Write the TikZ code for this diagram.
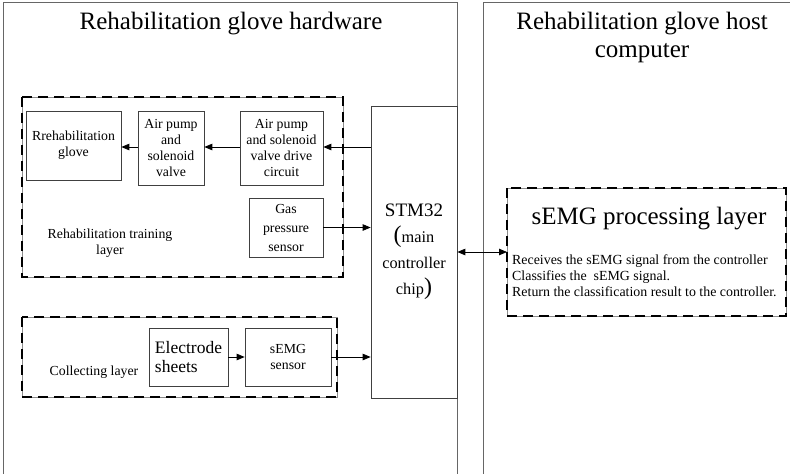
\documentclass[tikz,border=0pt]{standalone}
\usepackage{fontspec}
\setmainfont{Liberation Serif}
\usetikzlibrary{arrows.meta}
\begin{document}
\begin{tikzpicture}[x=1pt,y=-1pt,
  panel/.style={draw=black!60,line width=0.9pt},
  blk/.style={draw=black!75,line width=0.7pt,align=center,inner sep=1pt,font=\fontsize{13.8}{16}\selectfont},
  dashbox/.style={draw=black,line width=2.4pt,dash pattern=on 10pt off 6pt},
  thinline/.style={draw=black!45,line width=0.5pt},
  arr/.style={-{Triangle[length=8pt,width=6.5pt]},line width=0.8pt},
  darr/.style={{Triangle[length=8pt,width=6.5pt]}-{Triangle[length=8pt,width=6.5pt]},line width=0.8pt},
  lbl/.style={align=center,font=\fontsize{13.8}{16}\selectfont}]
\useasboundingbox (0,0) rectangle (790,474);
% panels
\draw[panel] (3,476) -- (3,2) -- (457,2) -- (457,476);
\draw[panel] (483,476) -- (483,2) -- (792,2);
\node[lbl,font=\fontsize{25}{28}\selectfont] (t1) at (231,24) {Rehabilitation glove hardware};
\node[lbl,font=\fontsize{25}{28}\selectfont] (t2) at (642,37) {Rehabilitation glove host\\computer};
% dashed boxes
\draw[thinline] (22,97) rectangle (343,277);
\draw[dashbox] (22,97) rectangle (343,277);
\draw[thinline] (22,317) rectangle (337,397);
\draw[dashbox] (22,317) rectangle (337,397);
\draw[thinline] (507,188) rectangle (786,316);
\draw[dashbox] (507,188) rectangle (786,316);
% blocks
\node[blk,minimum width=95pt,minimum height=69pt] (glove) at (73.5,145.5) {Rrehabilitation\\glove};
\node[blk,minimum width=66pt,minimum height=74pt] (pump) at (171,148) {Air pump\\and\\solenoid\\valve};
\node[blk,minimum width=83pt,minimum height=74pt] (drive) at (281.5,148) {Air pump\\and solenoid\\valve drive\\circuit};
\node[blk,minimum width=74pt,minimum height=59pt,font=\fontsize{13.8}{19}\selectfont] (gas) at (286,227.5) {Gas\\pressure\\sensor};
\node[blk,minimum width=86pt,minimum height=292pt,font=\fontsize{16.3}{26}\selectfont] (stm) at (414,252) {{\fontsize{19}{26}\selectfont STM32}\\{\fontsize{24}{29}\selectfont(}main\\controller\\chip{\fontsize{24}{26}\selectfont)}};
\node[blk,minimum width=79pt,minimum height=58pt,font=\fontsize{17.5}{19}\selectfont,align=left] (elec) at (188.5,357) {Electrode\\sheets};
\node[blk,minimum width=86pt,minimum height=58pt] (semg) at (288,357) {sEMG\\sensor};
% labels
\node[lbl] (l1) at (110,243) {Rehabilitation training\\layer};
\node[lbl] (l2) at (94,372) {Collecting layer};
\node[lbl,font=\fontsize{25}{28}\selectfont] (l3) at (649,219) {sEMG processing layer};
\node[align=left,anchor=west,inner sep=0pt,font=\fontsize{13.9}{16.2}\selectfont] (l4) at (512,276) {Receives the sEMG signal from the controller\\Classifies the\ \ sEMG signal.\\Return the classification result to the controller.};
% arrows
\draw[arr] (stm.west |- 0,147) -- (drive.east |- 0,147);
\draw[arr] (drive.west |- 0,147) -- (pump.east |- 0,147);
\draw[arr] (pump.west |- 0,147) -- (glove.east |- 0,147);
\draw[arr] (gas.east) -- (gas.east -| stm.west);
\draw[arr] (elec.east) -- (semg.west);
\draw[arr] (semg.east) -- (semg.east -| stm.west);
\draw[darr] (stm.east |- 0,252) -- (507,252);
\end{tikzpicture}
\end{document}
